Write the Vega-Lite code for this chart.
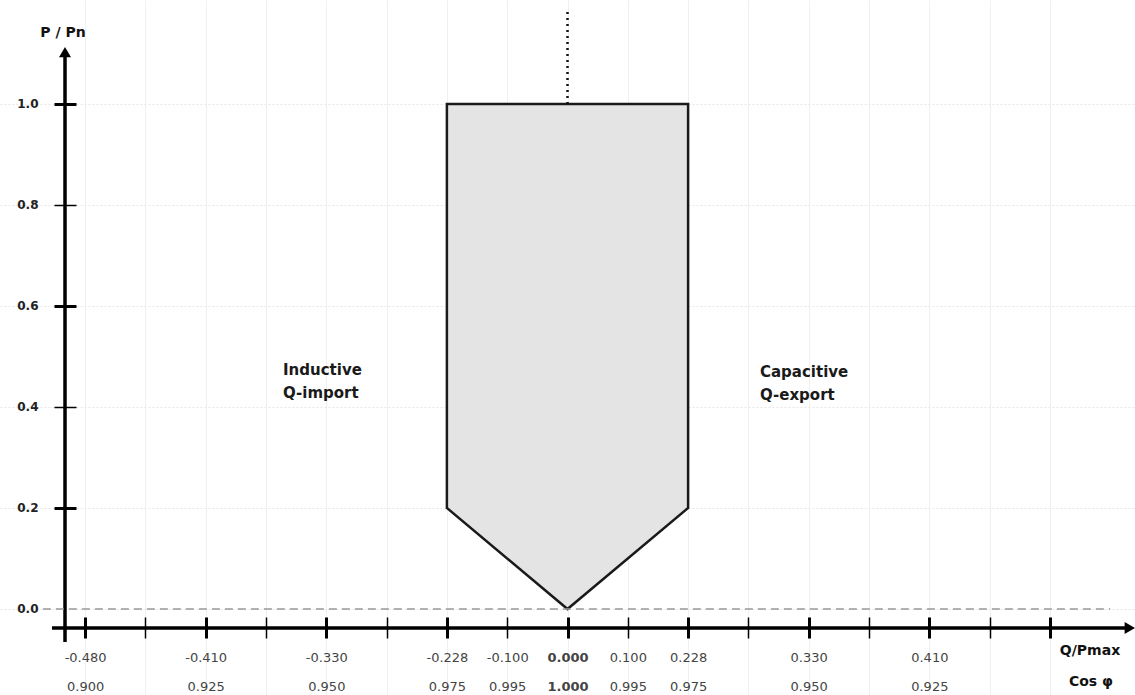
{
  "$schema": "https://vega.github.io/schema/vega-lite/v6.json",
  "width": 1135,
  "height": 695,
  "autosize": "none",
  "padding": 0,
  "background": "white",
  "config": {"view": {"stroke": null}},
  "datasets": {
    "polygon": [
      {"q": -2, "top": 1.0, "bottom": 0.2},
      {"q": 0, "top": 1.0, "bottom": 0.0},
      {"q": 2, "top": 1.0, "bottom": 0.2}
    ],
    "axislines": [
      {"x": -8.333, "x2": -8.333, "y": -0.0653, "y2": 1.097},
      {"x": -8.549, "x2": 9.28, "y": -0.0376, "y2": -0.0376}
    ],
    "zeroline": [
      {"x": -8.7, "x2": 9.0, "y": 0, "y2": 0}
    ],
    "centerline": [
      {"x": 0, "x2": 0, "y": 1.0, "y2": 1.186}
    ],
    "arrows": [
      {"x": -8.333, "y": 1.1026, "shape": "triangle-up"},
      {"x": 9.325, "y": -0.0376, "shape": "triangle-right"}
    ],
    "regionlabels": [
      {"x": -4.718, "y": 0.473, "text": "Inductive"},
      {"x": -4.718, "y": 0.428, "text": "Q-import"},
      {"x": 3.192, "y": 0.469, "text": "Capacitive"},
      {"x": 3.192, "y": 0.424, "text": "Q-export"}
    ],
    "axistitles": [
      {"x": -8.367, "y": 1.1406, "text": "P / Pn"},
      {"x": 8.665, "y": -0.0832, "text": "Q/Pmax"},
      {"x": 8.68, "y": -0.1446, "text": "Cos φ"}
    ]
  },
  "layer": [
    {
      "data": {"name": "polygon"},
      "mark": {"type": "area", "fill": "#e4e4e4", "stroke": "#1a1a1a", "strokeWidth": 2.5, "strokeJoin": "miter"},
      "encoding": {
        "x": {
          "field": "q", "type": "quantitative",
          "scale": {"domain": [-9.411, 9.411], "nice": false, "zero": false},
          "axis": {
            "orient": "bottom", "offset": -78, "title": null,
            "values": [-8,-7,-6,-5,-4,-3,-2,-1,0,1,2,3,4,5,6,7,8],
            "domain": false, "tickSize": 21, "tickColor": "#000",
            "tickWidth": {"condition": {"test": "datum.value % 2 == 0", "value": 3}, "value": 1.5},
            "labelExpr": "datum.value == -8 ? ['-0.480','0.900'] : datum.value == -6 ? ['-0.410','0.925'] : datum.value == -4 ? ['-0.330','0.950'] : datum.value == -2 ? ['-0.228','0.975'] : datum.value == -1 ? ['-0.100','0.995'] : datum.value == 0 ? ['0.000','1.000'] : datum.value == 1 ? ['0.100','0.995'] : datum.value == 2 ? ['0.228','0.975'] : datum.value == 4 ? ['0.330','0.950'] : datum.value == 6 ? ['0.410','0.925'] : ''",
            "labelFont": "DejaVu Sans", "labelFontSize": 13, "labelColor": "#444",
            "labelFontWeight": {"condition": {"test": "datum.value == 0", "value": "bold"}, "value": "normal"},
            "labelPadding": 13, "labelLineHeight": 29,
            "labelOverlap": false, "labelFlush": false, "labelBound": false,
            "grid": true, "gridColor": "#f0f0f0", "gridWidth": 1
          }
        },
        "y": {
          "field": "top", "type": "quantitative",
          "scale": {"domain": [-0.1703, 1.2059], "nice": false, "zero": false},
          "axis": {
            "orient": "left", "offset": -76, "title": null,
            "values": [0, 0.2, 0.4, 0.6, 0.8, 1.0], "format": ".1f",
            "domain": false, "tickSize": 22, "tickColor": "#000",
            "tickWidth": {"condition": {"test": "datum.value == 0.2 || datum.value == 0.6 || datum.value == 1", "value": 3}, "value": 1.5},
            "tickOpacity": {"condition": {"test": "datum.value == 0", "value": 0}, "value": 1},
            "labelFont": "DejaVu Sans", "labelFontWeight": "bold", "labelFontSize": 12, "labelColor": "#222",
            "labelPadding": 16,
            "grid": true, "gridColor": "#e6e6e6", "gridDash": [2, 2]
          }
        },
        "y2": {"field": "bottom"}
      }
    },
    {
      "data": {"name": "axislines"},
      "mark": {"type": "rule", "color": "#000", "strokeWidth": 3.5},
      "encoding": {
        "x": {"field": "x", "type": "quantitative"},
        "x2": {"field": "x2"},
        "y": {"field": "y", "type": "quantitative"},
        "y2": {"field": "y2"}
      }
    },
    {
      "data": {"name": "zeroline"},
      "mark": {"type": "rule", "color": "#999", "strokeWidth": 1.5, "strokeDash": [8, 5]},
      "encoding": {
        "x": {"field": "x", "type": "quantitative"},
        "x2": {"field": "x2"},
        "y": {"field": "y", "type": "quantitative"},
        "y2": {"field": "y2"}
      }
    },
    {
      "data": {"name": "centerline"},
      "mark": {"type": "rule", "color": "#111", "strokeWidth": 2.5, "strokeDash": [2, 4]},
      "encoding": {
        "x": {"field": "x", "type": "quantitative"},
        "y": {"field": "y", "type": "quantitative"},
        "y2": {"field": "y2"}
      }
    },
    {
      "data": {"name": "arrows"},
      "mark": {"type": "point", "filled": true, "color": "#000", "size": 144, "opacity": 1},
      "encoding": {
        "x": {"field": "x", "type": "quantitative"},
        "y": {"field": "y", "type": "quantitative"},
        "shape": {"field": "shape", "type": "nominal", "scale": null, "legend": null}
      }
    },
    {
      "data": {"name": "regionlabels"},
      "mark": {"type": "text", "align": "left", "baseline": "middle", "font": "DejaVu Sans", "fontWeight": "bold", "fontSize": 15, "color": "#1a1a1a"},
      "encoding": {
        "x": {"field": "x", "type": "quantitative"},
        "y": {"field": "y", "type": "quantitative"},
        "text": {"field": "text", "type": "nominal"}
      }
    },
    {
      "data": {"name": "axistitles"},
      "mark": {"type": "text", "align": "center", "baseline": "middle", "font": "DejaVu Sans", "fontWeight": "bold", "fontSize": 14, "color": "#111"},
      "encoding": {
        "x": {"field": "x", "type": "quantitative"},
        "y": {"field": "y", "type": "quantitative"},
        "text": {"field": "text", "type": "nominal"}
      }
    }
  ]
}
